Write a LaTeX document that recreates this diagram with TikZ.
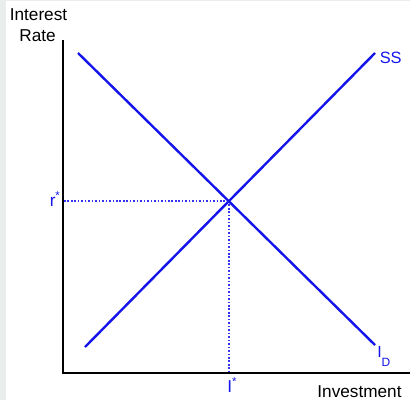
\documentclass[tikz,border=0pt]{standalone}
\usepackage{fontspec}
\setmainfont{Liberation Sans}
\definecolor{lineblue}{RGB}{20,20,235}
\definecolor{dotblue}{RGB}{50,50,240}
\definecolor{edgegray}{RGB}{233,238,236}
\tikzset{
  curve/.style={draw=lineblue, line width=1.8pt},
  axisline/.style={draw=black, line width=1.6pt},
  guide/.style={draw=dotblue, line width=1.05pt, dash pattern=on 1.2pt off 1.4pt},
  axislabel/.style={inner sep=0pt, font=\fontsize{12.9}{15}\selectfont, text=black},
  bluelabel/.style={inner sep=0pt, font=\fontsize{12.9}{15}\selectfont, text=lineblue},
}
\newcommand{\mystar}{\raisebox{4.6pt}{\fontsize{8.5}{9}\selectfont *}}
\begin{document}
\begin{tikzpicture}[x=0.75pt,y=-0.75pt]
\useasboundingbox (0,0) rectangle (410,400);
\fill[white] (0,0) rectangle (410,400);
\fill[edgegray] (0,0) rectangle (6,400);
\fill[edgegray] (0,0) rectangle (410,1.2);
% axes
\coordinate (ytop) at (63,40);
\coordinate (origin) at (63,373);
\coordinate (xend) at (410,373);
\draw[axisline] (ytop) -- (origin) -- (xend);
% curves
\coordinate (d1) at (78,53);
\coordinate (d2) at (375,345);
\coordinate (s1) at (85,347);
\coordinate (s2) at (375,53);
\coordinate (eq) at (229,201);
\coordinate (req) at (64,201);
\coordinate (ieq) at (229,372);
\draw[guide] (req) -- (eq);
\draw[guide] (eq) -- (ieq);
\draw[curve] (d1) -- (d2);
\draw[curve] (s1) -- (s2);
% labels
\node[axislabel, anchor=base] (interest) at (38.5,20) {Interest};
\node[axislabel, anchor=base] (rate) at (37.5,41) {Rate};
\node[axislabel, anchor=base] (invest) at (359.5,397) {Investment};
\node[bluelabel, anchor=base west] (rstar) at (49.5,206) {r\mystar};
\node[bluelabel, anchor=base west] (istar) at (227,392) {I\mystar};
\node[bluelabel, anchor=base west, font=\fontsize{12.3}{14}\selectfont] (ss) at (379.5,63) {SS};
\node[bluelabel, anchor=base west, font=\fontsize{12}{14}\selectfont] (id) at (377,357) {I\raisebox{-6.75pt}{\fontsize{9}{10}\selectfont D}};
\end{tikzpicture}
\end{document}
